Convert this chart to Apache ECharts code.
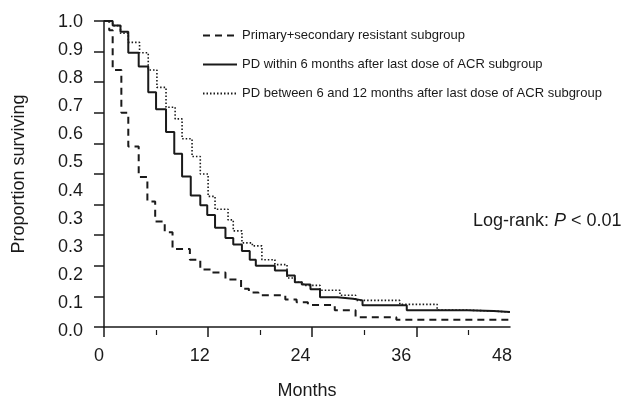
<!DOCTYPE html>
<html><head><meta charset="utf-8">
<script src="https://cdn.jsdelivr.net/npm/echarts@6/dist/echarts.min.js"></script>
<style>html,body{margin:0;padding:0;background:#fff}#c{width:629px;height:405px}</style>
</head><body><div id="c"></div>
<script>
const seriesNames = [
  'Primary+secondary resistant subgroup',
  'PD within 6 months after last dose of ACR subgroup',
  'PD between 6 and 12 months after last dose of ACR subgroup'
];
// Kaplan-Meier step points (month, proportion surviving)
const primaryMonths = [0, 0.6, 1.0, 2.0, 2.8, 4.0, 5.0, 5.9, 7.0, 7.9, 9.9, 11.1, 12.3, 14.0, 15.8, 16.7, 17.8, 20.9, 22.2, 23.5, 26.6, 29.0, 33.7, 46.8];
const primarySurv   = [1.0, 0.97, 0.84, 0.70, 0.59, 0.49, 0.41, 0.345, 0.31, 0.255, 0.22, 0.188, 0.178, 0.155, 0.125, 0.113, 0.104, 0.09, 0.081, 0.072, 0.055, 0.032, 0.024, 0.024];
const within6Months = [0, 1.0, 1.9, 2.8, 4.0, 5.1, 6.0, 7.15, 8.1, 9.0, 10.0, 11.1, 11.9, 12.8, 14.0, 14.9, 15.9, 16.8, 17.5, 19.7, 21.1, 22.0, 22.8, 23.8, 24.9, 26.9, 28.7, 29.8, 34.9, 41.9, 44.9, 46.8];
const within6Surv   = [1.0, 0.985, 0.965, 0.896, 0.851, 0.767, 0.712, 0.637, 0.566, 0.492, 0.43, 0.398, 0.366, 0.324, 0.291, 0.27, 0.248, 0.22, 0.2, 0.185, 0.168, 0.146, 0.139, 0.123, 0.097, 0.092, 0.087, 0.071, 0.055, 0.052, 0.049, 0.049];
const between612Months = [0, 1.0, 1.9, 2.8, 4.1, 5.1, 6.1, 7.15, 8.2, 9.0, 10.15, 11.1, 12.0, 12.8, 14.3, 14.9, 15.9, 17.1, 18.2, 19.7, 21.1, 22.0, 23.0, 24.9, 27.2, 29.0, 34.1, 38.4, 41.9, 44.9, 46.8];
const between612Surv   = [1.0, 0.985, 0.96, 0.93, 0.896, 0.84, 0.783, 0.718, 0.68, 0.615, 0.557, 0.5, 0.427, 0.385, 0.35, 0.314, 0.275, 0.265, 0.22, 0.204, 0.16, 0.146, 0.136, 0.12, 0.104, 0.087, 0.074, 0.055, 0.052, 0.049, 0.049];
const xTickLabels = ['0', '12', '24', '36', '48'];
const yTickLabels = ['0.0', '0.1', '0.2', '0.3', '0.3', '0.4', '0.5', '0.6', '0.7', '0.8', '0.9', '1.0'];
const annotation = 'Log-rank: ';

const pair = (xs, ys) => xs.map((x, i) => [x, ys[i]]);
const FONT = 'Liberation Sans, Arial, sans-serif';
const INK = '#1a1a1a';

const chart = echarts.init(document.getElementById('c'), null, {renderer: 'canvas'});
chart.setOption({
  backgroundColor: '#fff',
  animation: false,
  textStyle: {fontFamily: FONT, color: INK},
  grid: [
    {left: 104, top: 21, width: 406, height: 309},
    {left: 99, top: 22, width: 403, height: 309},
    {left: 104, top: 21, width: 406, height: 309}
  ],
  xAxis: [
    {type: 'value', gridIndex: 0, position: 'bottom', min: 0, max: 46.8,
     axisLine: {show: true, onZero: false, lineStyle: {color: INK, width: 1.5}},
     axisTick: {show: true, length: 10, customValues: [0, 12, 24, 36], lineStyle: {color: INK, width: 1.5}},
     axisLabel: {show: false}, splitLine: {show: false},
     name: 'Months', nameLocation: 'middle', nameGap: 55,
     nameTextStyle: {fontSize: 18, color: INK, fontFamily: FONT}},
    {type: 'value', gridIndex: 2, position: 'bottom', min: 0, max: 46.8,
     axisLine: {show: false, onZero: false},
     axisTick: {show: true, inside: false, length: 5, customValues: [6, 18, 30, 42], lineStyle: {color: INK, width: 1.2}},
     axisLabel: {show: false}, splitLine: {show: false}},
    {type: 'value', gridIndex: 1, position: 'bottom', min: 0, max: 48, interval: 12,
     axisLine: {show: false, onZero: false}, axisTick: {show: false}, splitLine: {show: false},
     axisLabel: {show: true, margin: 16, fontSize: 18, color: INK, fontFamily: FONT,
       formatter: v => xTickLabels[Math.round(v / 12)]}}
  ],
  yAxis: [
    {type: 'value', gridIndex: 0, position: 'left', min: 0, max: 1, interval: 0.1,
     axisLine: {show: true, onZero: false, lineStyle: {color: INK, width: 1.5}},
     axisTick: {show: true, length: 10, lineStyle: {color: INK, width: 1.5}},
     axisLabel: {show: false}, splitLine: {show: false},
     name: 'Proportion surviving', nameLocation: 'middle', nameGap: 76, nameRotate: 90,
     nameTextStyle: {fontSize: 18, color: INK, fontFamily: FONT}},
    {type: 'value', gridIndex: 1, position: 'left', min: 0, max: 11, interval: 1,
     axisLine: {show: false, onZero: false}, axisTick: {show: false}, splitLine: {show: false},
     axisLabel: {show: true, margin: 16, fontSize: 18, color: INK, fontFamily: FONT,
       formatter: v => yTickLabels[Math.round(v)]}},
    {type: 'value', gridIndex: 2, position: 'left', min: 0, max: 1, show: false}
  ],
  legend: {
    orient: 'vertical', left: 197, top: 24, itemWidth: 34, itemHeight: 14, itemGap: 16,
    itemStyle: {opacity: 0},
    textStyle: {fontSize: 13, color: INK, fontFamily: FONT},
    data: seriesNames
  },
  graphic: [{
    type: 'text', left: 473, top: 212,
    style: {
      text: '{a|' + annotation + '}{b|P}{a| < 0.01}',
      rich: {
        a: {fontSize: 18, fontFamily: FONT, fill: INK},
        b: {fontSize: 18, fontFamily: FONT, fontStyle: 'italic', fill: INK}
      }
    }
  }],
  series: [
    {name: seriesNames[0], type: 'line', xAxisIndex: 0, yAxisIndex: 0, step: 'end', symbol: 'none',
     data: pair(primaryMonths, primarySurv),
     lineStyle: {color: INK, width: 2, type: [7, 5]}, itemStyle: {color: INK}},
    {name: seriesNames[1], type: 'line', xAxisIndex: 0, yAxisIndex: 0, step: 'end', symbol: 'none',
     data: pair(within6Months, within6Surv),
     lineStyle: {color: INK, width: 2, type: 'solid'}, itemStyle: {color: INK}},
    {name: seriesNames[2], type: 'line', xAxisIndex: 0, yAxisIndex: 0, step: 'end', symbol: 'none',
     data: pair(between612Months, between612Surv),
     lineStyle: {color: INK, width: 1.6, type: [1.5, 2]}, itemStyle: {color: INK}}
  ]
});
</script>
</body></html>
